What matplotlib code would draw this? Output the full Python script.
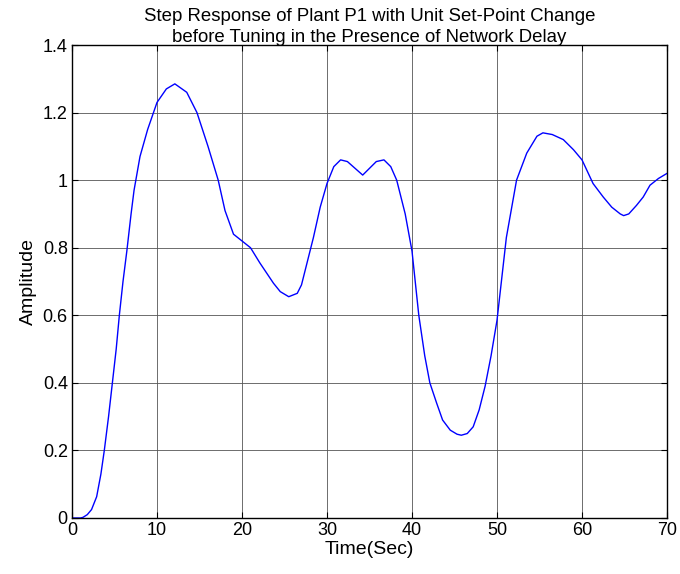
import matplotlib
matplotlib.use("Agg")
import matplotlib.pyplot as plt

# values
time_sec = [0, 1, 1.3, 1.8, 2.3, 2.9, 3.4, 3.8, 4.3, 4.75, 5.2, 5.57, 6.0, 6.45,
            6.95, 7.3, 8, 8.9, 10, 11.1, 12.1, 13.5, 14.7, 16, 17.2, 18, 19, 20,
            21, 22.1, 23.7, 24.5, 25.5, 26.5, 27, 28.4, 29.2, 30, 30.8, 31.6, 32.4,
            34.2, 35.8, 36.7, 37.5, 38.2, 39.2, 40, 40.8, 41.5, 42.1, 42.9, 43.6,
            44.5, 45.3, 45.8, 46.5, 47.2, 47.9, 48.6, 49.3, 50, 51.1, 52.3, 53.5,
            54.7, 55.4, 56.5, 57.8, 59, 60, 61.3, 62.5, 63.5, 64.5, 64.9, 65.5,
            66.4, 67.2, 68, 69, 70]
amplitude = [0, 0, 0.002, 0.01, 0.025, 0.063, 0.13, 0.2, 0.3, 0.4, 0.5, 0.6,
             0.70, 0.79, 0.90, 0.97, 1.07, 1.15, 1.23, 1.27, 1.285, 1.26, 1.20,
             1.10, 1.0, 0.91, 0.84, 0.82, 0.80, 0.755, 0.695, 0.67, 0.655, 0.665,
             0.69, 0.83, 0.92, 0.99, 1.04, 1.06, 1.055, 1.015, 1.055, 1.06, 1.04,
             1.0, 0.90, 0.79, 0.60, 0.48, 0.40, 0.34, 0.29, 0.26, 0.248, 0.245,
             0.25, 0.27, 0.32, 0.39, 0.48, 0.585, 0.83, 1.0, 1.08, 1.13, 1.14,
             1.135, 1.12, 1.09, 1.06, 0.99, 0.95, 0.92, 0.90, 0.895, 0.90, 0.925,
             0.95, 0.985, 1.005, 1.02]

x_ticks = [0, 10, 20, 30, 40, 50, 60, 70]
y_ticks = [0, 0.2, 0.4, 0.6, 0.8, 1.0, 1.2, 1.4]
y_labels = ['0', '0.2', '0.4', '0.6', '0.8', '1', '1.2', '1.4']

plt.rcParams['font.family'] = ['Liberation Sans', 'DejaVu Sans']

fig = plt.figure(figsize=(6.8, 5.74), dpi=100)
ax = fig.add_axes([72 / 680, 1 - 518 / 574, 595 / 680, 473 / 574])

ax.plot(time_sec, amplitude, color='#0000ff', linewidth=1.0)

ax.set_xlim(0, 70)
ax.set_ylim(0, 1.4)
ax.set_xticks(x_ticks)
ax.set_yticks(y_ticks)
ax.set_yticklabels(y_labels)
ax.tick_params(direction='in', top=True, right=True, length=4, width=0.8,
               labelsize=13, pad=3)
ax.grid(True, color='#555555', linewidth=0.6)
for spine in ax.spines.values():
    spine.set_color('black')
    spine.set_linewidth(1.0)

ax.set_xlabel('Time(Sec)', fontsize=14, labelpad=1)
ax.set_ylabel('Amplitude', fontsize=14, labelpad=4)
ax.set_title('Step Response of Plant P1 with Unit Set-Point Change\n'
             'before Tuning in the Presence of Network Delay',
             fontsize=13.4, pad=2, linespacing=1.3)

fig.savefig('out.png', dpi=100)
